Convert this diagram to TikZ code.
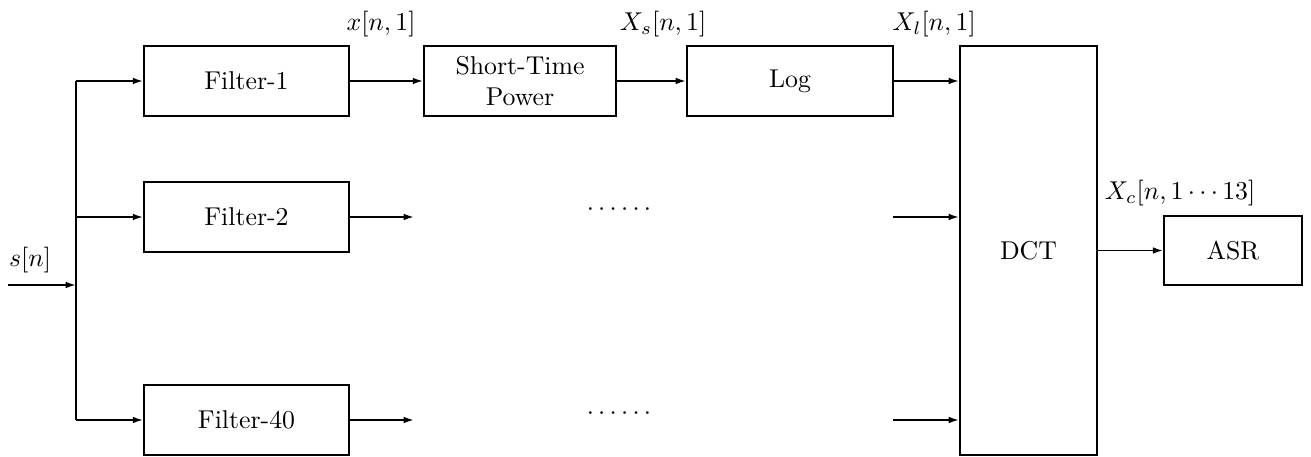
\documentclass[tikz,border=0pt]{standalone}
\usetikzlibrary{arrows.meta}
\begin{document}
\begin{tikzpicture}[x=0.388pt, y=-0.388pt,
  blk/.style={draw, line width=0.7pt, inner sep=0pt, align=center},
  filt/.style={blk, minimum width=79.5pt, minimum height=27.2pt},
  wire/.style={line width=0.7pt},
  conn/.style={wire, -{Latex[length=4pt,width=2.6pt]}},
  sig/.style={anchor=base, inner sep=0pt},
  dots/.style={inner sep=0pt}]
\useasboundingbox (0,0) rectangle (1311,457);

% filter bank
\node[filt] (f1)  at (246.5,81)  {Filter-1};
\node[filt] (f2)  at (246.5,217) {Filter-2};
\node[filt] (f40) at (246.5,420) {Filter-40};

% first channel processing
\node[blk, minimum width=74.5pt, minimum height=27.2pt] (stp) at (520,81) {Short-Time\\Power};
\node[blk, minimum width=80pt, minimum height=27.2pt] (log) at (790,81) {Log};

% transform and recognizer
\node[blk, minimum width=53.2pt, minimum height=158.7pt] (dct) at (1028.5,250.5) {DCT};
\node[blk, minimum width=53.5pt, minimum height=26.8pt] (asr) at (1233,250.5) {ASR};

% input and distribution bus
\coordinate (in)   at (8,285);
\coordinate (bj)   at (76,285);
\coordinate (btop) at (76,81);
\coordinate (bmid) at (76,217);
\coordinate (bbot) at (76,420);
\draw[conn] (in) -- (bj);
\draw[wire] (btop) -- (bbot);
\draw[conn] (btop) -- (f1.west);
\draw[conn] (bmid) -- (f2.west);
\draw[conn] (bbot) -- (f40.west);

% channel 1 chain
\draw[conn] (f1.east) -- (stp.west);
\draw[conn] (stp.east) -- (log.west);
\draw[conn] (log.east) -- (dct.west |- log.east);

% channels 2 and 40 (elided)
\coordinate (e2)  at (414,217);
\coordinate (e40) at (414,420);
\coordinate (s2)  at (893,217);
\coordinate (s40) at (893,420);
\draw[conn] (f2.east) -- (e2);
\draw[conn] (f40.east) -- (e40);
\draw[conn] (s2) -- (dct.west |- s2);
\draw[conn] (s40) -- (dct.west |- s40);
\node[dots] (d2)  at (619,210) {$\cdots\cdots$};
\node[dots] (d40) at (619,414) {$\cdots\cdots$};

% output
\draw[conn] (dct.east |- asr.west) -- (asr.west);

% signal labels
\node[sig] (ls)  at (30,267)   {$s[n]$};
\node[sig] (lx)  at (381,31)   {$x[n,1]$};
\node[sig] (lxs) at (663,31)   {$X_s[n,1]$};
\node[sig] (lxl) at (934,31)   {$X_l[n,1]$};
\node[sig] (lxc) at (1180,200) {$X_c[n,1\cdots13]$};
\end{tikzpicture}
\end{document}
